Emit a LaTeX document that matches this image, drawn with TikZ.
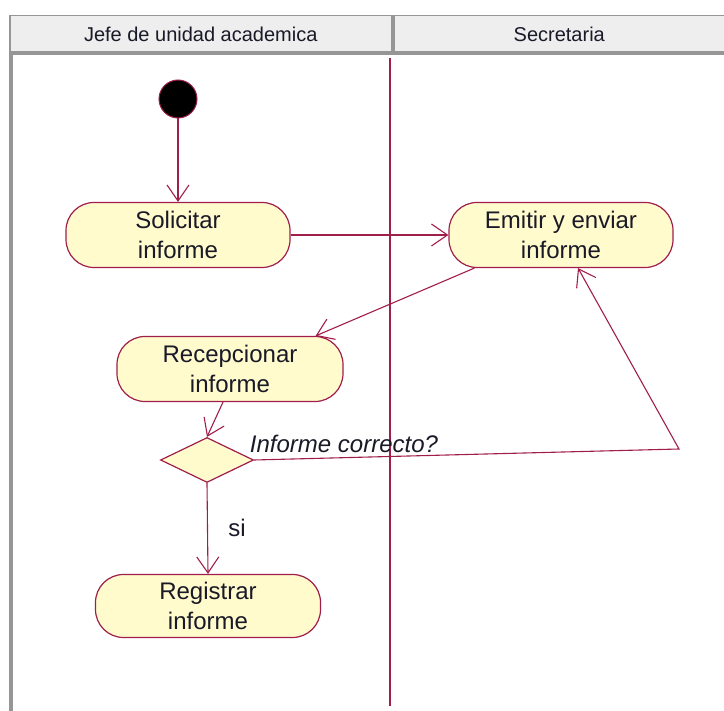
\documentclass[tikz,border=0pt]{standalone}
\usepackage{fontspec}
\setmainfont{Liberation Sans}
\usetikzlibrary{arrows.meta,shapes.geometric,calc}
\definecolor{uml}{RGB}{160,30,75}
\definecolor{actfill}{RGB}{255,251,204}
\definecolor{hdrfill}{RGB}{238,238,238}
\definecolor{hdrline}{RGB}{150,150,150}
\definecolor{txt}{RGB}{25,25,40}
\tikzset{
  activity/.style={draw=uml, fill=actfill, line width=1.2pt, rounded corners=28pt,
    minimum width=224pt, minimum height=65pt, align=center, text=txt,
    font=\fontsize{24}{30}\selectfont, inner sep=0pt},
  flow/.style={draw=uml, line width=1.1pt, -{Straight Barb[length=16pt,width=22pt,line width=1.1pt]}},
  hdr/.style={draw=hdrline, fill=hdrfill, line width=1.5pt, text=txt,
    font=\fontsize{20}{22}\selectfont},
  lbl/.style={text=txt, font=\fontsize{24}{28}\selectfont, inner sep=0pt}
}
\begin{document}
\begin{tikzpicture}[x=1pt,y=-1pt]
\useasboundingbox (0,0) rectangle (724,711);
% headers
\node[hdr, minimum width=382pt, minimum height=37pt, anchor=north west] (h1) at (9,15) {Jefe de unidad academica};
\node[hdr, minimum width=331pt, minimum height=37pt, anchor=north west] (h2) at (393,15) {Secretaria};
\draw[hdrline, line width=4pt] (9,53) -- (724,53);
\draw[hdrline, line width=4pt] (11,53) -- (11,711);
% swimlane divider
\draw[uml, line width=1.3pt] (390,58) -- (390,706);
% nodes
\node[circle, fill=black, draw=uml, line width=1pt, minimum size=38pt, inner sep=0pt] (init) at (178,99) {};
\node[activity] (sol) at (178,235) {Solicitar\\informe};
\node[activity] (emi) at (561,235) {Emitir y enviar\\informe};
\node[activity, minimum width=226pt] (rec) at (230,369) {Recepcionar\\informe};
\node[diamond, draw=uml, fill=actfill, line width=1.2pt, minimum width=93pt, minimum height=45pt, inner sep=0pt] (dec) at (207,460) {};
\node[activity, minimum width=225pt, minimum height=63pt] (reg) at (208,606) {Registrar\\informe};
% connectors
\draw[flow] (init) -- (sol);
\draw[flow] (sol.east) -- (emi.west);
\draw[flow] ($(emi.south west)+(26,0)$) -- ($(rec.north east)+(-28,0)$);
\draw[flow] ($(rec.south)+(-7,0)$) -- (dec.north);
\coordinate (turn) at (679,449);
\draw[flow] (dec.east) -- (turn) -- ($(emi.south)+(17,0)$);
\draw[flow] (dec.south) -- (reg.north);
% labels
\node[lbl, font=\fontsize{24}{28}\selectfont\itshape, anchor=base] (cond) at (344,453) {Informe correcto?};
\node[lbl, anchor=base] (si) at (237,537) {si};
\end{tikzpicture}
\end{document}
